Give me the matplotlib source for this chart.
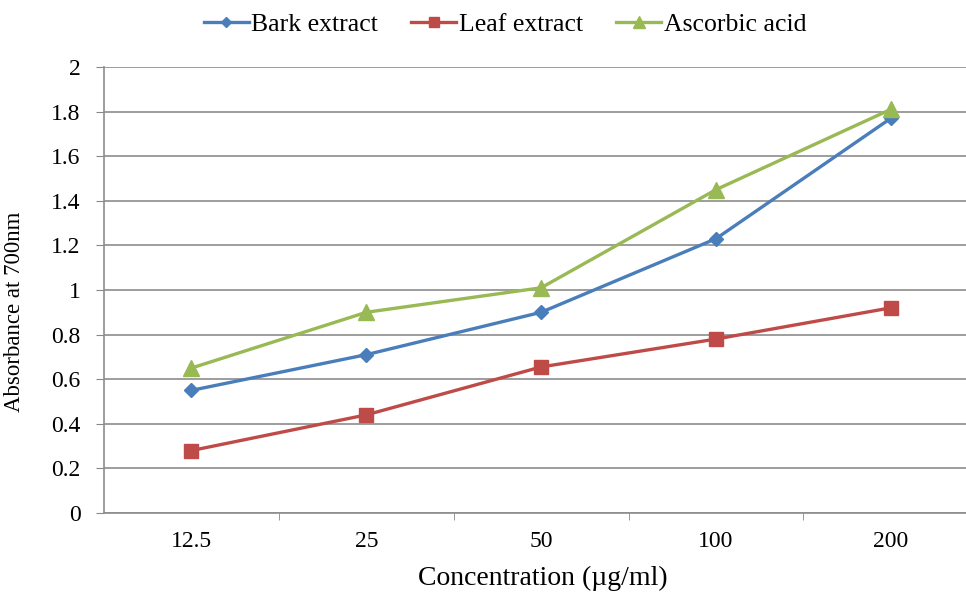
import matplotlib.pyplot as plt

# data
concentrations = ["12.5", "25", "50", "100", "200"]
bark_extract = [0.55, 0.71, 0.90, 1.23, 1.77]
leaf_extract = [0.28, 0.44, 0.655, 0.78, 0.92]
ascorbic_acid = [0.65, 0.90, 1.01, 1.45, 1.81]
y_ticks = [0, 0.2, 0.4, 0.6, 0.8, 1, 1.2, 1.4, 1.6, 1.8, 2]

plt.rcParams['font.family'] = ['Liberation Serif', 'DejaVu Serif']

fig = plt.figure(figsize=(9.66, 5.92), dpi=100)
ax = fig.add_axes([104 / 966, 1 - 513 / 592, 1 - 104 / 966, (513 - 67) / 592])

x = list(range(len(concentrations)))
ax.plot(x, bark_extract, color='#4a7ebb', marker='D', markersize=7, lw=2.4, label='Bark extract')
ax.plot(x, leaf_extract, color='#be4b48', marker='s', markersize=10, lw=2.4, label='Leaf extract')
ax.plot(x, ascorbic_acid, color='#98b954', marker='^', markersize=11, lw=2.4, label='Ascorbic acid')

ax.set_ylim(0, 2)
ax.set_yticks(y_ticks)
ax.set_yticklabels([f"{t:g}" for t in y_ticks])
ax.set_xlim(-0.5, 4.43)
ax.set_xticks(x)
ax.set_xticklabels(concentrations)
ax.set_xticks([0.5, 1.5, 2.5, 3.5], minor=True)
ax.tick_params(axis='x', which='major', length=0, pad=13, labelsize=17)
ax.tick_params(axis='x', which='minor', length=5, color='#888888')
ax.tick_params(axis='y', length=6, color='#888888', labelsize=17, pad=11)

ax.grid(axis='y', color='#8c8c8c', lw=1.2)
ax.set_axisbelow(True)
for side in ['top', 'right']:
    ax.spines[side].set_visible(False)
for side in ['left', 'bottom']:
    ax.spines[side].set_color('#8c8c8c')
    ax.spines[side].set_linewidth(1.2)

ax.set_xlabel('Concentration (µg/ml)', fontsize=20)
ax.xaxis.set_label_coords((543 - 104) / 862, -(566 - 513) / 446)
ax.set_ylabel('Absorbance at 700nm', fontsize=16.5)
ax.yaxis.set_label_coords((25 - 104) / 862, 0.45)

fig.legend(loc='center', bbox_to_anchor=(505 / 966, 1 - 25 / 592), ncol=3, frameon=False,
           fontsize=18.5, handlelength=1.75, handletextpad=0.1, columnspacing=1.3,
           markerscale=0.75)

fig.savefig('out.png', dpi=100)
